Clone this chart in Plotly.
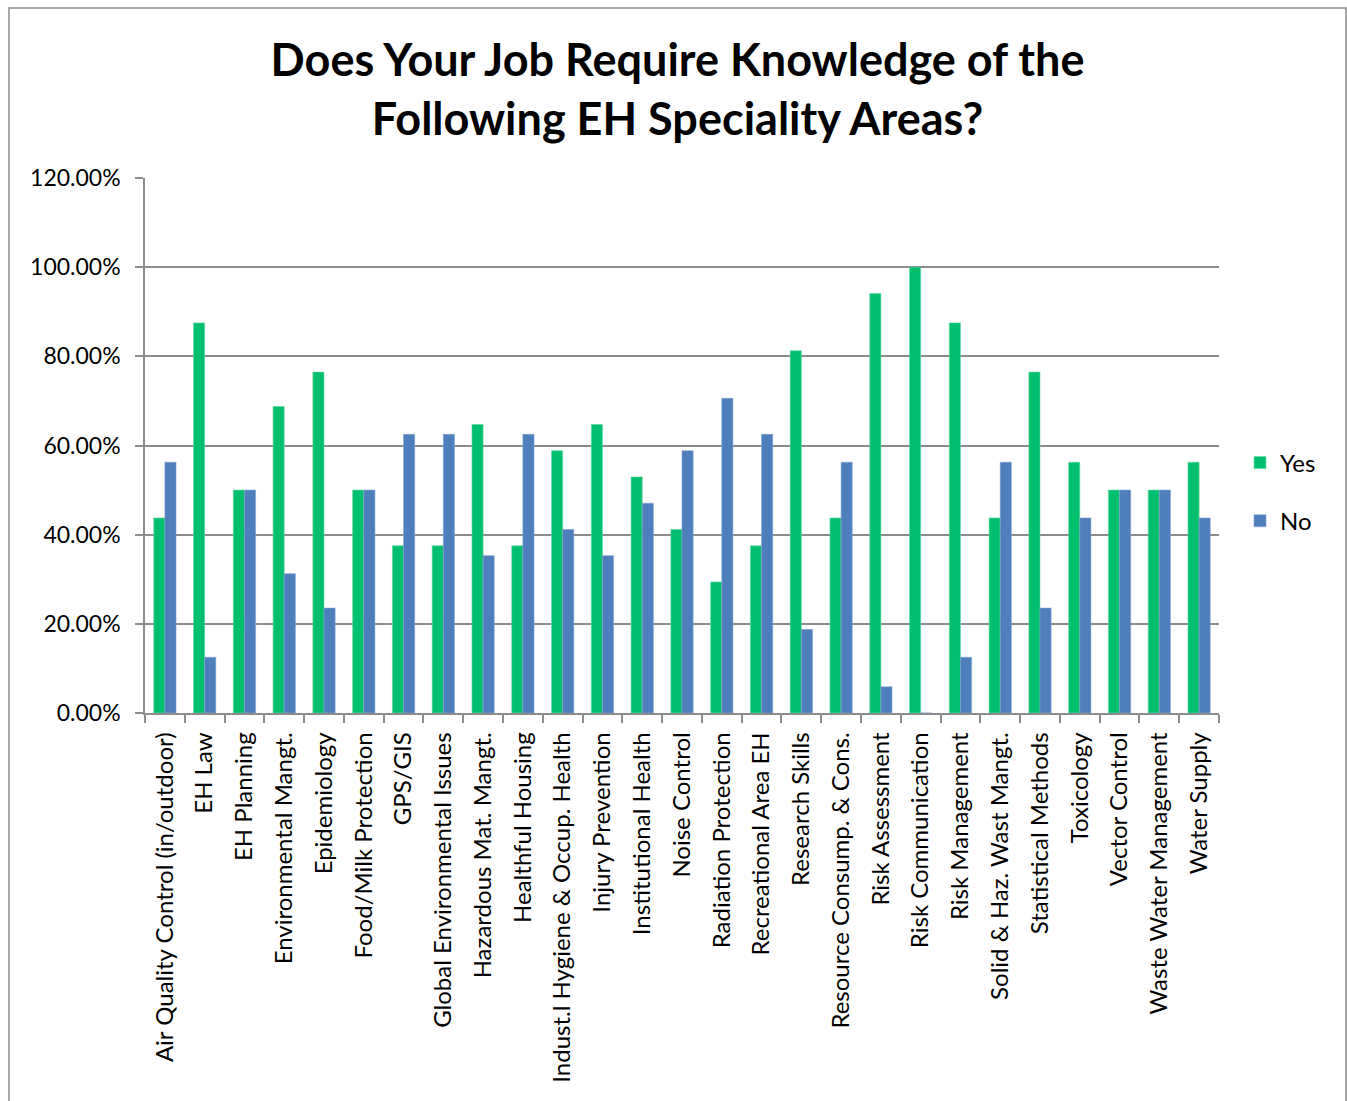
import plotly.graph_objects as go

categories = [
    "Air Quality Control (in/outdoor)", "EH Law", "EH Planning", "Environmental Mangt.",
    "Epidemiology", "Food/Milk Protection", "GPS/GIS", "Global Environmental Issues",
    "Hazardous Mat. Mangt.", "Healthful Housing", "Indust.l Hygiene & Occup. Health",
    "Injury Prevention", "Institutional Health", "Noise Control", "Radiation Protection",
    "Recreational Area EH", "Research Skills", "Resource Consump. & Cons.", "Risk Assessment",
    "Risk Communication", "Risk Management", "Solid & Haz. Wast Mangt.", "Statistical Methods",
    "Toxicology", "Vector Control", "Waste Water Management", "Water Supply",
]
yes_values = [0.4375, 0.875, 0.50, 0.6875, 0.7647, 0.50, 0.375, 0.375, 0.6471, 0.375, 0.5882,
              0.6471, 0.5294, 0.4118, 0.2941, 0.375, 0.8125, 0.4375, 0.9412, 1.00, 0.875,
              0.4375, 0.7647, 0.5625, 0.50, 0.50, 0.5625]
no_values = [0.5625, 0.125, 0.50, 0.3125, 0.2353, 0.50, 0.625, 0.625, 0.3529, 0.625, 0.4118,
             0.3529, 0.4706, 0.5882, 0.7059, 0.625, 0.1875, 0.5625, 0.0588, 0.0, 0.125,
             0.5625, 0.2353, 0.4375, 0.50, 0.50, 0.4375]
y_ticks = [0, 0.2, 0.4, 0.6, 0.8, 1.0, 1.2]

FONT = "Lato"
fig = go.Figure()
fig.add_trace(go.Bar(name="Yes", x=categories, y=yes_values, marker_color="#00BF6F",
                     marker_line=dict(color="#5DD9A0", width=0.6), legendgroup="a"))
fig.add_trace(go.Bar(name="No", x=categories, y=no_values, marker_color="#4F7EBD",
                     marker_line=dict(color="#7FA3D4", width=0.6), legendgroup="b"))

W, H = 1347, 1101
L, R, T, B = 145, 128, 178, 388
pw, ph = W - L - R, H - T - B


def px_x(x):
    return (x - L) / pw


def px_y(y):
    return (H - B - y) / ph


fig.update_layout(
    width=W, height=H,
    margin=dict(l=L, r=R, t=T, b=B),
    paper_bgcolor="white", plot_bgcolor="white",
    barmode="group", bargap=0.44, bargroupgap=0,
    font=dict(family=FONT, color="black", size=20),
    title=dict(text="<b>Does Your Job Require Knowledge of the<br>Following EH Speciality Areas?</b>",
               x=0.503, xanchor="center", y=1 - 76 / H, yanchor="middle",
               font=dict(family=FONT, size=45, color="black")),
    legend=dict(x=px_x(1240), xanchor="left", y=px_y(492), yanchor="middle",
                font=dict(family=FONT, size=24), tracegroupgap=24, itemwidth=30,
                traceorder="grouped", bgcolor="rgba(0,0,0,0)"),
    showlegend=True,
)
fig.update_xaxes(
    type="category", showline=True, linecolor="#8c8c8c", linewidth=1.5,
    ticks="outside", tickson="boundaries", ticklen=8, tickcolor="#8c8c8c", tickwidth=1.5,
    tickangle=-90, tickfont=dict(family=FONT, size=24, color="black"),
    ticklabelstandoff=8, showgrid=False, mirror=False,
)
fig.update_yaxes(
    range=[0, 1.2], tickvals=y_ticks, tickformat=".2%",
    showline=True, linecolor="#8c8c8c", linewidth=1.5,
    ticks="outside", ticklen=8, tickcolor="#8c8c8c", tickwidth=1.5,
    showgrid=True, gridcolor="#8c8c8c", gridwidth=1.5, zeroline=False,
    tickfont=dict(family=FONT, size=23, color="black"), ticklabelstandoff=10,
)
# outer chart frame
fig.add_shape(type="rect", xref="paper", yref="paper",
              x0=px_x(9), x1=px_x(1346), y0=px_y(1115), y1=px_y(8),
              line=dict(color="#8c8c8c", width=1.5), fillcolor="rgba(0,0,0,0)", layer="below")

fig.write_html("out.html")
